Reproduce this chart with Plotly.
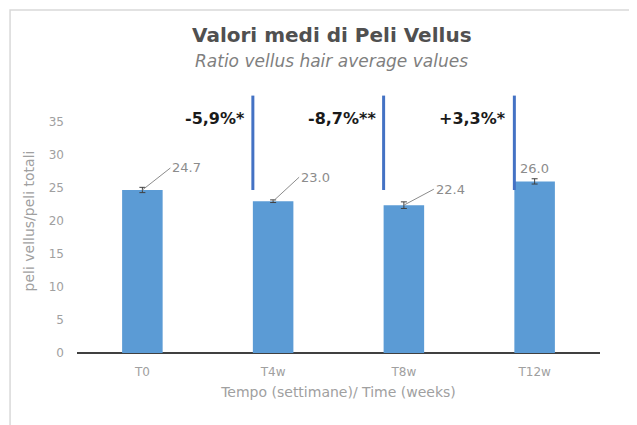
import plotly.graph_objects as go

categories = ["T0", "T4w", "T8w", "T12w"]
values = [24.7, 23.0, 22.4, 26.0]
errors = [0.4, 0.2, 0.5, 0.4]
value_labels = ["24.7", "23.0", "22.4", "26.0"]
changes = ["-5,9%*", "-8,7%**", "+3,3%*"]
y_ticks = [0, 5, 10, 15, 20, 25, 30, 35]

FONT = "DejaVu Sans"
BAR_W = 0.31
x_idx = list(range(len(categories)))

fig = go.Figure()
fig.add_trace(go.Bar(
    x=x_idx, y=values, width=BAR_W,
    marker=dict(color="#5B9BD5", line=dict(width=0)),
    error_y=dict(type="data", array=errors, visible=True,
                 color="#404040", thickness=1, width=3),
    hoverinfo="skip",
))

fig.update_layout(
    width=629, height=417,
    margin=dict(l=69, r=37, t=81, b=72, autoexpand=False),
    paper_bgcolor="white", plot_bgcolor="white",
    showlegend=False,
    xaxis=dict(range=[-0.5, 3.5], tickvals=x_idx, ticktext=categories,
               showgrid=False, zeroline=False, showline=False,
               ticks="", automargin=False, ticklabelstandoff=10,
               tickfont=dict(family=FONT, size=12, color="#a0a0a0"),
               title=dict(text="Tempo (settimane)/ Time (weeks)",
                          font=dict(family=FONT, size=14, color="#a0a0a0"),
                          standoff=9)),
    yaxis=dict(range=[0, 40], tickvals=y_ticks, showgrid=False,
               zeroline=True, zerolinecolor="#404040", zerolinewidth=1.5,
               showline=False, ticks="", automargin=False, ticklabelstandoff=12,
               tickfont=dict(family=FONT, size=12, color="#a0a0a0"),
               title=dict(text="peli vellus/peli totali",
                          font=dict(family=FONT, size=14, color="#a0a0a0"),
                          standoff=10)),
)

# chart border (extends past the right and bottom edges)
fig.add_shape(type="rect", xref="paper", yref="paper",
              x0=-0.128, x1=2.0, y0=-1.0, y1=1.299,
              line=dict(color="#d9d9d9", width=1.5), layer="below")

# value labels with leader lines
offsets = [(28, -22), (26, -24), (30, -16), None]
for i, (v, lab, e) in enumerate(zip(values, value_labels, errors)):
    off = offsets[i]
    if off is None:
        fig.add_annotation(x=i, y=v + e, text=lab, showarrow=False,
                           yanchor="bottom", yshift=1,
                           font=dict(family=FONT, size=13, color="#8c8c8c"))
    else:
        fig.add_annotation(x=i, y=v, text=lab, showarrow=True,
                           ax=off[0], ay=off[1], arrowhead=0,
                           arrowwidth=1, arrowcolor="#8c8c8c",
                           xanchor="left",
                           font=dict(family=FONT, size=13, color="#8c8c8c"))

# change markers: vertical lines at left edge of each later bar
for j, txt in enumerate(changes, start=1):
    xl = x_idx[j] - BAR_W / 2
    fig.add_shape(type="line", x0=xl, x1=xl, y0=values[0], y1=39,
                  xref="x", yref="y", line=dict(color="#4472C4", width=3))
    fig.add_annotation(x=xl, y=35.6, text="<b>" + txt + "</b>",
                       showarrow=False, xanchor="right", xshift=-6,
                       font=dict(family=FONT, size=16, color="#1a1a1a"))

fig.add_annotation(xref="paper", yref="paper", x=0.5, y=1.0, yanchor="bottom",
                   yshift=40, xshift=-7, showarrow=False,
                   text="<b>Valori medi di Peli Vellus</b>",
                   font=dict(family=FONT, size=20, color="#505050"))
fig.add_annotation(xref="paper", yref="paper", x=0.5, y=1.0, yanchor="bottom",
                   yshift=16, xshift=-7, showarrow=False,
                   text="<i>Ratio vellus hair average values</i>",
                   font=dict(family=FONT, size=17, color="#7f7f7f"))

fig.write_html("out.html")
